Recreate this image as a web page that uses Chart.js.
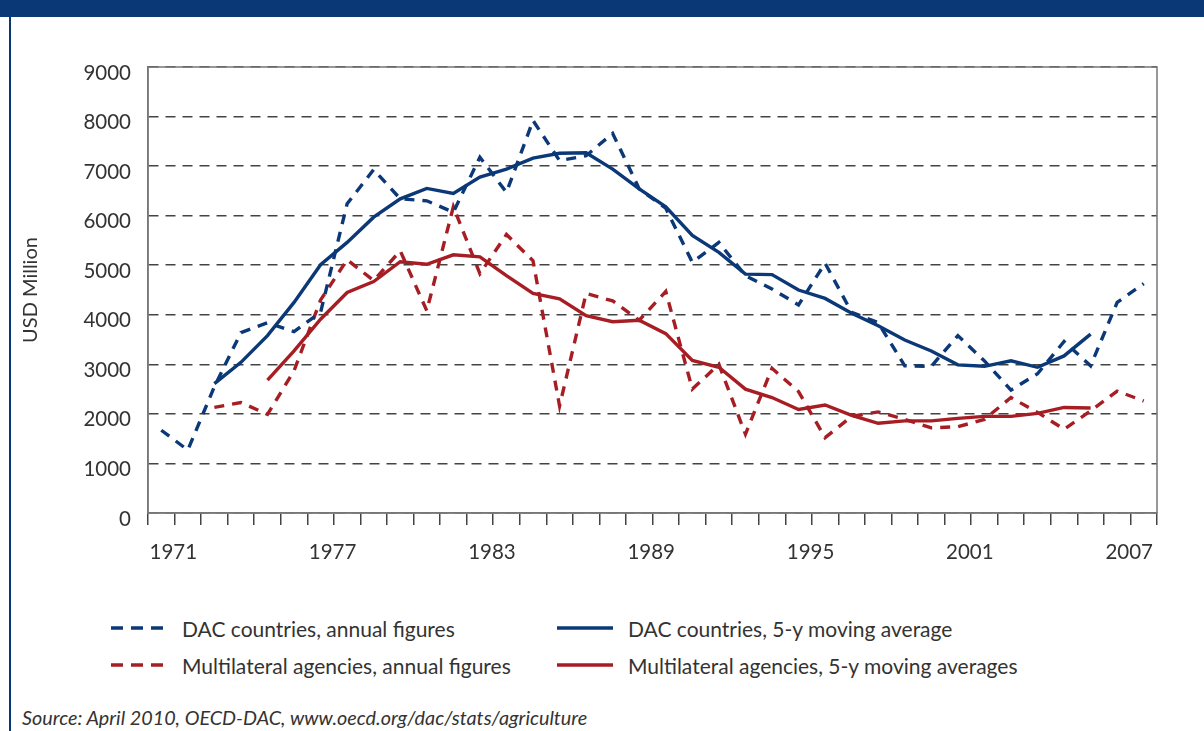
<!DOCTYPE html>
<html>
<head>
<meta charset="utf-8">
<script src="https://cdn.jsdelivr.net/npm/chart.js@4.4.1/dist/chart.umd.min.js"></script>
<style>
  body { margin: 0; width: 1204px; height: 731px; background: #fff; position: relative; overflow: hidden; font-family: "Lato", sans-serif; color: #333; }
  #header { position: absolute; left: 0; top: 0; width: 1204px; height: 17px; background: #0a3776; }
  #leftline { position: absolute; left: 9px; top: 0; width: 2px; height: 731px; background: #0a3776; }
  #wrap { position: absolute; left: 0; top: 0; width: 1204px; height: 560px; }
  .legend-item { position: absolute; height: 26px; display: flex; align-items: center; font-size: 21px; white-space: nowrap; }
  .legend-item svg { margin-right: 15px; }
  #source { position: absolute; left: 22px; top: 705px; font-size: 19.8px; font-style: italic; white-space: nowrap; }
</style>
</head>
<body>
<div id="header"></div>
<div id="leftline"></div>
<div id="wrap"><canvas id="aid-chart" width="1204" height="560"></canvas></div>
<div id="legend"></div>
<div id="source">Source: April 2010, OECD-DAC, www.oecd.org/dac/stats/agriculture</div>

<script>
  // Years on the x axis (one band per year)
  const years = [];
  for (let y = 1971; y <= 2008; y++) years.push(String(y));

  // Only every 6th year gets a label
  const labelledYears = ["1971", "1977", "1983", "1989", "1995", "2001", "2007"];

  // DAC countries, annual figures (USD million)
  const dacAnnual = [
    1670, 1270, 2550, 3640, 3840, 3660, 4050, 6240, 6930, 6340,
    6300, 6070, 7180, 6470, 7920, 7110, 7210, 7660, 6540, 6150,
    5060, 5460, 4790, 4520, 4200, 5040, 4050, 3840, 2970, 2960,
    3580, 3070, 2480, 2810, 3460, 2970, 4250, 4630
  ];

  // DAC countries, 5-y moving average
  const dacAverage = [
    null, null, 2610, 3040, 3580, 4250, 5010, 5460, 5970, 6340,
    6550, 6450, 6780, 6940, 7160, 7260, 7270, 6940, 6540, 6180,
    5600, 5260, 4820, 4810, 4500, 4330, 4030, 3780, 3490, 3270,
    2990, 2960, 3070, 2940, 3170, 3610, null, null
  ];

  // Multilateral agencies, annual figures
  const multiAnnual = [
    null, null, 2130, 2230, 1990, 2870, 4300, 5110, 4690, 5290,
    4080, 6180, 4830, 5620, 5090, 2160, 4430, 4280, 3890, 4470,
    2500, 3000, 1590, 2920, 2450, 1520, 1950, 2040, 1890, 1720,
    1740, 1890, 2330, 2030, 1690, 2060, 2460, 2260
  ];

  // Multilateral agencies, 5-y moving averages
  const multiAverage = [
    null, null, null, null, 2680, 3270, 3910, 4450, 4670, 5070,
    5020, 5210, 5170, 4790, 4430, 4320, 3980, 3860, 3890, 3620,
    3080, 2940, 2500, 2330, 2090, 2180, 1970, 1810, 1860, 1860,
    1910, 1950, 1950, 2010, 2130, 2120, null, null
  ];

  const BLUE = "#0b3877";
  const RED = "#a61e24";
  const DASH = [10, 8];

  // Closes the plot box (top and right edges)
  const plotBox = {
    id: "plotBox",
    beforeDatasetsDraw(chart) {
      const { ctx, chartArea: a } = chart;
      ctx.save();
      ctx.strokeStyle = "#777";
      ctx.lineWidth = 1.5;
      ctx.strokeRect(a.left, a.top, a.right - a.left, a.bottom - a.top);
      ctx.restore();
    },
  };

  const makeSet = (label, data, color, dashed) => ({
    label,
    data,
    borderColor: color,
    backgroundColor: color,
    borderWidth: 3.4,
    borderDash: dashed ? DASH : [],
    borderCapStyle: "butt",
    pointRadius: 0,
    tension: 0,
    spanGaps: false,
    dashed,
  });

  const datasets = [
    makeSet("DAC countries, annual figures", dacAnnual, BLUE, true),
    makeSet("DAC countries, 5-y moving average", dacAverage, BLUE, false),
    makeSet("Multilateral agencies, annual figures", multiAnnual, RED, true),
    makeSet("Multilateral agencies, 5-y moving averages", multiAverage, RED, false),
  ];

  const tickFont = { family: "Lato", size: 20.5 };

  const chart = new Chart(document.getElementById("aid-chart"), {
    type: "line",
    data: { labels: years, datasets },
    plugins: [plotBox],
    options: {
      responsive: false,
      animation: false,
      layout: { padding: { top: 67, right: 47, left: 0, bottom: 0 } },
      plugins: { legend: { display: false }, tooltip: { enabled: false } },
      scales: {
        x: {
          offset: true,
          grid: { offset: true, drawOnChartArea: false, drawTicks: true, tickLength: 12, color: "#444", lineWidth: 1.5 },
          border: { color: "#777", width: 1.5 },
          ticks: {
            autoSkip: false,
            maxRotation: 0,
            padding: 15,
            labelOffset: 12,
            color: "#333",
            font: tickFont,
            callback: (value, index) => (labelledYears.includes(years[index]) ? years[index] : ""),
          },
          afterFit: (scale) => { scale.height = 47; },
        },
        y: {
          min: 0,
          max: 9000,
          ticks: { stepSize: 1000, padding: 17, labelOffset: 6, color: "#333", font: tickFont, callback: (value) => String(value) },
          grid: { drawTicks: false, color: "#444", lineWidth: 1.5 },
          border: { color: "#777", width: 1.5, dash: [10, 7] },
          title: {
            display: true,
            text: "USD Million",
            color: "#333",
            font: { family: "Lato", size: 20 },
            padding: { top: 19, bottom: 0 },
          },
          afterFit: (scale) => { scale.width = 148; },
        },
      },
    },
  });

  // Build the legend from the datasets (two columns, two rows)
  const legendPos = [
    { left: 111, top: 615 },
    { left: 557, top: 615 },
    { left: 111, top: 652 },
    { left: 557, top: 652 },
  ];
  const legend = document.getElementById("legend");
  datasets.forEach((ds, i) => {
    const item = document.createElement("div");
    item.className = "legend-item";
    item.style.left = legendPos[i].left + "px";
    item.style.top = legendPos[i].top + "px";
    const dash = ds.dashed ? 'stroke-dasharray="12 8"' : "";
    item.innerHTML =
      '<svg width="56" height="6"><line x1="0" y1="3" x2="56" y2="3" stroke="' + ds.borderColor +
      '" stroke-width="3.5" ' + dash + "/></svg><span>" + ds.label + "</span>";
    legend.appendChild(item);
  });
</script>
</body>
</html>
